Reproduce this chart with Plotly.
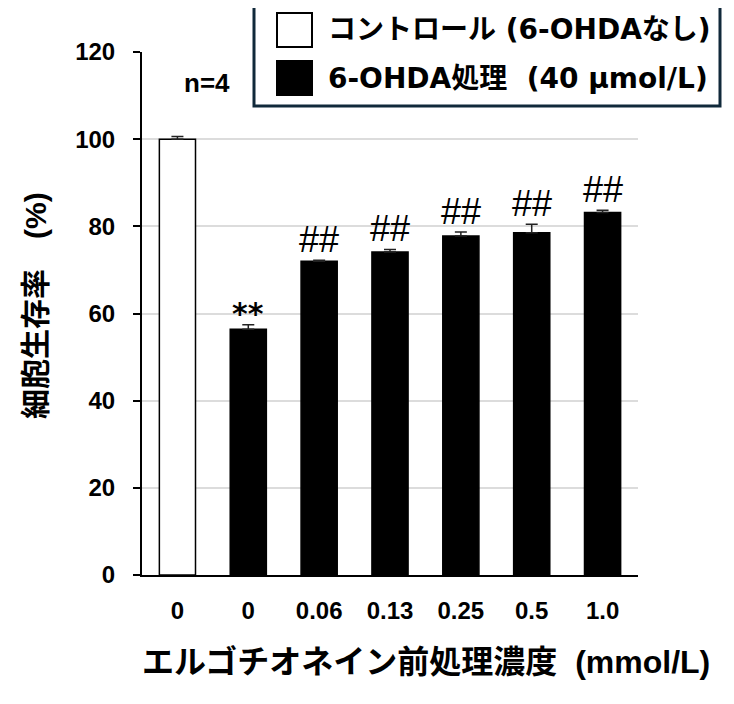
import plotly.graph_objects as go

# data
x_labels = ["0", "0", "0.06", "0.13", "0.25", "0.5", "1.0"]
viability = [100.0, 56.4, 72.0, 74.1, 77.8, 78.5, 83.2]
errors = [0.6, 1.0, 0.2, 0.6, 0.9, 2.0, 0.5]
marks = ["", "**", "##", "##", "##", "##", "##"]
legend_labels = ["コントロール (6-OHDAなし)", "6-OHDA処理  (40 μmol/L)"]

# page body has an 8px margin, so the figure is drawn 8px in from the corner
PAD = 8
W, H = 734 - PAD, 704 - PAD
L, R, T, B = 142 - PAD, 96, 52 - PAD, 129
WIDE = "DejaVu Sans, Noto Sans CJK JP"
ARIAL = "Liberation Sans, Arial, Noto Sans CJK JP"


def px(x, y):
    """screen pixel -> paper coords"""
    return (x - PAD - L) / (W - L - R), (H - B - (y - PAD)) / (H - T - B)


xs = list(range(len(x_labels)))
fills = ["white"] + ["black"] * (len(xs) - 1)

fig = go.Figure(
    go.Bar(
        x=xs,
        y=viability,
        width=0.51,
        marker=dict(color=fills, line=dict(color="black", width=1.5)),
        error_y=dict(
            type="data",
            array=errors,
            arrayminus=[0] * len(errors),
            symmetric=False,
            color="#222222",
            thickness=1.5,
            width=6,
        ),
        showlegend=False,
    )
)

annotations = []
for x, v, e, m in zip(xs, viability, errors, marks):
    if not m:
        continue
    star = m == "**"
    annotations.append(
        dict(
            x=x,
            y=v + e,
            text=f"<b>{m}</b>" if star else m,
            showarrow=False,
            yanchor="bottom",
            yshift=-8 if star else -2,
            font=dict(size=30 if star else 36, color="black",
                      family=WIDE if star else ARIAL),
        )
    )

annotations.append(
    dict(x=0.42, y=113, text="<b>n=4</b>", showarrow=False,
         xanchor="center", yanchor="middle",
         font=dict(size=26, color="black", family=ARIAL))
)

# axis titles
ax, ay = px(35, 306)
annotations.append(
    dict(x=ax, y=ay, xref="paper", yref="paper", text="<b>細胞生存率　(%)</b>",
         textangle=-90, showarrow=False, xanchor="center", yanchor="middle",
         font=dict(size=30, color="black", family=ARIAL))
)
ax, ay = px(426, 662)
annotations.append(
    dict(x=ax, y=ay, xref="paper", yref="paper",
         text="<b>エルゴチオネイン前処理濃度  (mmol/L)</b>", showarrow=False,
         xanchor="center", yanchor="middle",
         font=dict(size=32, color="black", family=ARIAL))
)

# hand-made legend box
shapes = []
x0, y0 = px(254, 106)
x1, y1 = px(720, 4)
shapes.append(dict(type="rect", xref="paper", yref="paper", x0=x0, y0=y0, x1=x1, y1=y1,
                   fillcolor="white", line=dict(color="#10293a", width=3), layer="above"))
for i, (lab, col) in enumerate(zip(legend_labels, ["white", "black"])):
    top = 13 + i * 48
    sx0, sy0 = px(277, top + 34)
    sx1, sy1 = px(312, top)
    shapes.append(dict(type="rect", xref="paper", yref="paper", x0=sx0, y0=sy0, x1=sx1, y1=sy1,
                       fillcolor=col, line=dict(color="black", width=2), layer="above"))
    tx, ty = px(326, top + 17)
    annotations.append(
        dict(x=tx, y=ty, xref="paper", yref="paper", text=f"<b>{lab}</b>",
             xanchor="left", yanchor="middle", showarrow=False,
             font=dict(size=28, color="black", family=WIDE))
    )

fig.update_layout(
    width=W,
    height=H,
    margin=dict(l=L, r=R, t=T, b=B),
    paper_bgcolor="white",
    plot_bgcolor="white",
    annotations=annotations,
    shapes=shapes,
    xaxis=dict(
        tickmode="array",
        tickvals=xs,
        ticktext=[f"<b>{t}</b>" for t in x_labels],
        range=[-0.5, len(xs) - 0.5],
        showline=True,
        linecolor="black",
        linewidth=2,
        ticks="",
        ticklabelstandoff=13,
        tickfont=dict(size=24, color="black", family=ARIAL),
        showgrid=False,
        zeroline=False,
    ),
    yaxis=dict(
        range=[0, 120],
        tickvals=[0, 20, 40, 60, 80, 100, 120],
        ticktext=["<b>%d</b>" % v for v in [0, 20, 40, 60, 80, 100, 120]],
        showline=True,
        linecolor="black",
        linewidth=2,
        ticks="outside",
        ticklen=7,
        tickwidth=1.5,
        tickcolor="black",
        ticklabelstandoff=13,
        tickfont=dict(size=24, color="black", family=ARIAL),
        showgrid=True,
        gridcolor="#dcdcdc",
        gridwidth=1.5,
        zeroline=False,
    ),
)

fig.write_html("out.html")
